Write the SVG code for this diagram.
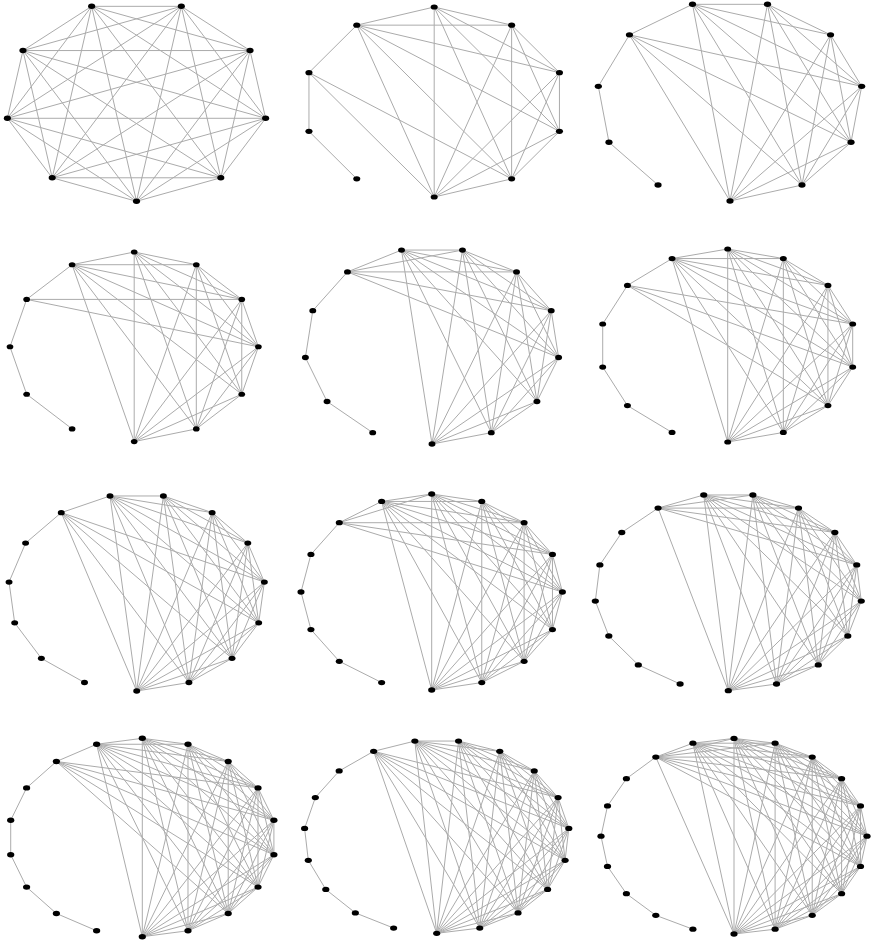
<svg xmlns="http://www.w3.org/2000/svg" width="871" height="943" viewBox="0 0 871 943">
<style>
.e path{fill:none;stroke:#ababab;stroke-width:1;vector-effect:non-scaling-stroke}
.n circle{fill:#000}
</style>
<rect width="871" height="943" fill="#fff"/>

<g id="panel1" transform="translate(136.5 100.8) scale(.1311 .1005)">
<g class="e" id="p1-edges">
<path d="M0 1000L-643 766"/><path d="M0 1000L-985 174"/><path d="M0 1000L-866 -500"/><path d="M0 1000L-342 -940"/><path d="M0 1000L342 -940"/><path d="M0 1000L866 -500"/><path d="M0 1000L985 174"/><path d="M0 1000L643 766"/>
<path d="M-643 766L-985 174"/><path d="M-643 766L-866 -500"/><path d="M-643 766L-342 -940"/><path d="M-643 766L342 -940"/><path d="M-643 766L866 -500"/><path d="M-643 766L985 174"/><path d="M-643 766L643 766"/>
<path d="M-985 174L-866 -500"/><path d="M-985 174L-342 -940"/><path d="M-985 174L342 -940"/><path d="M-985 174L866 -500"/><path d="M-985 174L985 174"/><path d="M-985 174L643 766"/>
<path d="M-866 -500L-342 -940"/><path d="M-866 -500L342 -940"/><path d="M-866 -500L866 -500"/><path d="M-866 -500L985 174"/><path d="M-866 -500L643 766"/>
<path d="M-342 -940L342 -940"/><path d="M-342 -940L866 -500"/><path d="M-342 -940L985 174"/><path d="M-342 -940L643 766"/>
<path d="M342 -940L866 -500"/><path d="M342 -940L985 174"/><path d="M342 -940L643 766"/>
<path d="M866 -500L985 174"/><path d="M866 -500L643 766"/><path d="M985 174L643 766"/>
</g>
<g class="n">
<g id="p1-n0"><circle cx="0" cy="1000" r="27"/></g><g id="p1-n1"><circle cx="-643" cy="766" r="27"/></g><g id="p1-n2"><circle cx="-985" cy="174" r="27"/></g><g id="p1-n3"><circle cx="-866" cy="-500" r="27"/></g><g id="p1-n4"><circle cx="-342" cy="-940" r="27"/></g><g id="p1-n5"><circle cx="342" cy="-940" r="27"/></g><g id="p1-n6"><circle cx="866" cy="-500" r="27"/></g><g id="p1-n7"><circle cx="985" cy="174" r="27"/></g><g id="p1-n8"><circle cx="643" cy="766" r="27"/></g>
</g>
</g>

<g id="panel2" transform="translate(434.2 102) scale(.1317 .095)">
<g class="e" id="p2-edges">
<path d="M-588 809L-951 309"/><path d="M-951 309L-951 -309"/><path d="M-951 -309L-588 -809"/><path d="M-951 -309L588 809"/><path d="M-951 -309L0 1000"/>
<path d="M0 1000L-588 -809"/><path d="M0 1000L0 -1000"/><path d="M0 1000L588 -809"/><path d="M0 1000L951 -309"/><path d="M0 1000L951 309"/><path d="M0 1000L588 809"/>
<path d="M-588 -809L0 -1000"/><path d="M-588 -809L588 -809"/><path d="M-588 -809L951 -309"/><path d="M-588 -809L951 309"/><path d="M-588 -809L588 809"/>
<path d="M0 -1000L588 -809"/><path d="M0 -1000L951 -309"/><path d="M0 -1000L951 309"/><path d="M0 -1000L588 809"/>
<path d="M588 -809L951 -309"/><path d="M588 -809L951 309"/><path d="M588 -809L588 809"/>
<path d="M951 -309L951 309"/><path d="M951 -309L588 809"/><path d="M951 309L588 809"/>
</g>
<g class="n">
<g id="p2-n0"><circle cx="0" cy="1000" r="27"/></g><g id="p2-n1"><circle cx="-588" cy="809" r="27"/></g><g id="p2-n2"><circle cx="-951" cy="309" r="27"/></g><g id="p2-n3"><circle cx="-951" cy="-309" r="27"/></g><g id="p2-n4"><circle cx="-588" cy="-809" r="27"/></g><g id="p2-n5"><circle cx="0" cy="-1000" r="27"/></g><g id="p2-n6"><circle cx="588" cy="-809" r="27"/></g><g id="p2-n7"><circle cx="951" cy="-309" r="27"/></g><g id="p2-n8"><circle cx="951" cy="309" r="27"/></g><g id="p2-n9"><circle cx="588" cy="809" r="27"/></g>
</g>
</g>

<g id="panel3" transform="translate(730 100.6) scale(.133 .1004)">
<g class="e" id="p3-edges">
<path d="M-541 841L-910 415"/><path d="M-910 415L-990 -142"/><path d="M-990 -142L-756 -655"/><path d="M-756 -655L-282 -959"/><path d="M-756 -655L990 -142"/><path d="M-756 -655L910 415"/><path d="M-756 -655L541 841"/><path d="M-756 -655L0 1000"/>
<path d="M0 1000L-282 -959"/><path d="M0 1000L282 -959"/><path d="M0 1000L756 -655"/><path d="M0 1000L990 -142"/><path d="M0 1000L910 415"/><path d="M0 1000L541 841"/>
<path d="M-282 -959L282 -959"/><path d="M-282 -959L756 -655"/><path d="M-282 -959L990 -142"/><path d="M-282 -959L910 415"/><path d="M-282 -959L541 841"/>
<path d="M282 -959L756 -655"/><path d="M282 -959L990 -142"/><path d="M282 -959L910 415"/><path d="M282 -959L541 841"/>
<path d="M756 -655L990 -142"/><path d="M756 -655L910 415"/><path d="M756 -655L541 841"/>
<path d="M990 -142L910 415"/><path d="M990 -142L541 841"/><path d="M910 415L541 841"/>
</g>
<g class="n">
<g id="p3-n0"><circle cx="0" cy="1000" r="27"/></g><g id="p3-n1"><circle cx="-541" cy="841" r="27"/></g><g id="p3-n2"><circle cx="-910" cy="415" r="27"/></g><g id="p3-n3"><circle cx="-990" cy="-142" r="27"/></g><g id="p3-n4"><circle cx="-756" cy="-655" r="27"/></g><g id="p3-n5"><circle cx="-282" cy="-959" r="27"/></g><g id="p3-n6"><circle cx="282" cy="-959" r="27"/></g><g id="p3-n7"><circle cx="756" cy="-655" r="27"/></g><g id="p3-n8"><circle cx="990" cy="-142" r="27"/></g><g id="p3-n9"><circle cx="910" cy="415" r="27"/></g><g id="p3-n10"><circle cx="541" cy="841" r="27"/></g>
</g>
</g>

<g id="panel4" transform="translate(134.2 346.8) scale(.1242 .0948)">
<g class="e" id="p4-edges">
<path d="M-500 866L-866 500"/><path d="M-866 500L-1000 0"/><path d="M-1000 0L-866 -500"/><path d="M-866 -500L-500 -866"/><path d="M-866 -500L866 -500"/><path d="M-866 -500L1000 0"/>
<path d="M0 1000L-500 -866"/><path d="M0 1000L0 -1000"/><path d="M0 1000L500 -866"/><path d="M0 1000L866 -500"/><path d="M0 1000L1000 0"/><path d="M0 1000L866 500"/><path d="M0 1000L500 866"/>
<path d="M-500 -866L0 -1000"/><path d="M-500 -866L500 -866"/><path d="M-500 -866L866 -500"/><path d="M-500 -866L1000 0"/><path d="M-500 -866L866 500"/><path d="M-500 -866L500 866"/>
<path d="M0 -1000L500 -866"/><path d="M0 -1000L866 -500"/><path d="M0 -1000L1000 0"/><path d="M0 -1000L866 500"/><path d="M0 -1000L500 866"/>
<path d="M500 -866L866 -500"/><path d="M500 -866L1000 0"/><path d="M500 -866L866 500"/><path d="M500 -866L500 866"/>
<path d="M866 -500L1000 0"/><path d="M866 -500L866 500"/><path d="M866 -500L500 866"/>
<path d="M1000 0L866 500"/><path d="M1000 0L500 866"/><path d="M866 500L500 866"/>
</g>
<g class="n">
<g id="p4-n0"><circle cx="0" cy="1000" r="27"/></g><g id="p4-n1"><circle cx="-500" cy="866" r="27"/></g><g id="p4-n2"><circle cx="-866" cy="500" r="27"/></g><g id="p4-n3"><circle cx="-1000" cy="0" r="27"/></g><g id="p4-n4"><circle cx="-866" cy="-500" r="27"/></g><g id="p4-n5"><circle cx="-500" cy="-866" r="27"/></g><g id="p4-n6"><circle cx="0" cy="-1000" r="27"/></g><g id="p4-n7"><circle cx="500" cy="-866" r="27"/></g><g id="p4-n8"><circle cx="866" cy="-500" r="27"/></g><g id="p4-n9"><circle cx="1000" cy="0" r="27"/></g><g id="p4-n10"><circle cx="866" cy="500" r="27"/></g><g id="p4-n11"><circle cx="500" cy="866" r="27"/></g>
</g>
</g>

<g id="panel5" transform="translate(432 345.6) scale(.1275 .0984)">
<g class="e" id="p5-edges">
<path d="M-465 885L-823 568"/><path d="M-823 568L-993 121"/><path d="M-993 121L-935 -355"/><path d="M-935 -355L-663 -749"/><path d="M-663 -749L-239 -971"/><path d="M-663 -749L239 -971"/><path d="M-663 -749L663 -749"/><path d="M-663 -749L935 -355"/><path d="M-663 -749L993 121"/>
<path d="M0 1000L-239 -971"/><path d="M0 1000L239 -971"/><path d="M0 1000L663 -749"/><path d="M0 1000L935 -355"/><path d="M0 1000L993 121"/><path d="M0 1000L823 568"/><path d="M0 1000L465 885"/>
<path d="M-239 -971L239 -971"/><path d="M-239 -971L663 -749"/><path d="M-239 -971L935 -355"/><path d="M-239 -971L993 121"/><path d="M-239 -971L823 568"/><path d="M-239 -971L465 885"/>
<path d="M239 -971L663 -749"/><path d="M239 -971L935 -355"/><path d="M239 -971L993 121"/><path d="M239 -971L823 568"/><path d="M239 -971L465 885"/>
<path d="M663 -749L935 -355"/><path d="M663 -749L993 121"/><path d="M663 -749L823 568"/><path d="M663 -749L465 885"/>
<path d="M935 -355L993 121"/><path d="M935 -355L823 568"/><path d="M935 -355L465 885"/>
<path d="M993 121L823 568"/><path d="M993 121L465 885"/><path d="M823 568L465 885"/>
</g>
<g class="n">
<g id="p5-n0"><circle cx="0" cy="1000" r="27"/></g><g id="p5-n1"><circle cx="-465" cy="885" r="27"/></g><g id="p5-n2"><circle cx="-823" cy="568" r="27"/></g><g id="p5-n3"><circle cx="-993" cy="121" r="27"/></g><g id="p5-n4"><circle cx="-935" cy="-355" r="27"/></g><g id="p5-n5"><circle cx="-663" cy="-749" r="27"/></g><g id="p5-n6"><circle cx="-239" cy="-971" r="27"/></g><g id="p5-n7"><circle cx="239" cy="-971" r="27"/></g><g id="p5-n8"><circle cx="663" cy="-749" r="27"/></g><g id="p5-n9"><circle cx="935" cy="-355" r="27"/></g><g id="p5-n10"><circle cx="993" cy="121" r="27"/></g><g id="p5-n11"><circle cx="823" cy="568" r="27"/></g><g id="p5-n12"><circle cx="465" cy="885" r="27"/></g>
</g>
</g>

<g id="panel6" transform="translate(727.7 345.5) scale(.1282 .0965)">
<g class="e" id="p6-edges">
<path d="M-434 901L-782 623"/><path d="M-782 623L-975 223"/><path d="M-975 223L-975 -223"/><path d="M-975 -223L-782 -623"/><path d="M-782 -623L-434 -901"/><path d="M-782 -623L975 -223"/><path d="M-782 -623L975 223"/><path d="M-782 -623L782 623"/>
<path d="M0 1000L-434 -901"/><path d="M0 1000L0 -1000"/><path d="M0 1000L434 -901"/><path d="M0 1000L782 -623"/><path d="M0 1000L975 -223"/><path d="M0 1000L975 223"/><path d="M0 1000L782 623"/><path d="M0 1000L434 901"/>
<path d="M-434 -901L0 -1000"/><path d="M-434 -901L434 -901"/><path d="M-434 -901L782 -623"/><path d="M-434 -901L975 -223"/><path d="M-434 -901L975 223"/><path d="M-434 -901L782 623"/><path d="M-434 -901L434 901"/>
<path d="M0 -1000L434 -901"/><path d="M0 -1000L782 -623"/><path d="M0 -1000L975 -223"/><path d="M0 -1000L975 223"/><path d="M0 -1000L782 623"/><path d="M0 -1000L434 901"/>
<path d="M434 -901L782 -623"/><path d="M434 -901L975 -223"/><path d="M434 -901L975 223"/><path d="M434 -901L782 623"/><path d="M434 -901L434 901"/>
<path d="M782 -623L975 -223"/><path d="M782 -623L975 223"/><path d="M782 -623L782 623"/><path d="M782 -623L434 901"/>
<path d="M975 -223L975 223"/><path d="M975 -223L782 623"/><path d="M975 -223L434 901"/>
<path d="M975 223L782 623"/><path d="M975 223L434 901"/><path d="M782 623L434 901"/>
</g>
<g class="n">
<g id="p6-n0"><circle cx="0" cy="1000" r="27"/></g><g id="p6-n1"><circle cx="-434" cy="901" r="27"/></g><g id="p6-n2"><circle cx="-782" cy="623" r="27"/></g><g id="p6-n3"><circle cx="-975" cy="223" r="27"/></g><g id="p6-n4"><circle cx="-975" cy="-223" r="27"/></g><g id="p6-n5"><circle cx="-782" cy="-623" r="27"/></g><g id="p6-n6"><circle cx="-434" cy="-901" r="27"/></g><g id="p6-n7"><circle cx="0" cy="-1000" r="27"/></g><g id="p6-n8"><circle cx="434" cy="-901" r="27"/></g><g id="p6-n9"><circle cx="782" cy="-623" r="27"/></g><g id="p6-n10"><circle cx="975" cy="-223" r="27"/></g><g id="p6-n11"><circle cx="975" cy="223" r="27"/></g><g id="p6-n12"><circle cx="782" cy="623" r="27"/></g><g id="p6-n13"><circle cx="434" cy="901" r="27"/></g>
</g>
</g>

<g id="panel7" transform="translate(136.7 592.4) scale(.1283 .0986)">
<g class="e" id="p7-edges">
<path d="M-407 914L-743 669"/><path d="M-743 669L-951 309"/><path d="M-951 309L-995 -105"/><path d="M-995 -105L-866 -500"/><path d="M-866 -500L-588 -809"/><path d="M-588 -809L-208 -978"/><path d="M-588 -809L995 -105"/><path d="M-588 -809L951 309"/><path d="M-588 -809L743 669"/><path d="M-588 -809L407 914"/><path d="M-588 -809L0 1000"/>
<path d="M0 1000L-208 -978"/><path d="M0 1000L208 -978"/><path d="M0 1000L588 -809"/><path d="M0 1000L866 -500"/><path d="M0 1000L995 -105"/><path d="M0 1000L951 309"/><path d="M0 1000L743 669"/><path d="M0 1000L407 914"/>
<path d="M-208 -978L208 -978"/><path d="M-208 -978L588 -809"/><path d="M-208 -978L866 -500"/><path d="M-208 -978L995 -105"/><path d="M-208 -978L951 309"/><path d="M-208 -978L743 669"/><path d="M-208 -978L407 914"/>
<path d="M208 -978L588 -809"/><path d="M208 -978L866 -500"/><path d="M208 -978L995 -105"/><path d="M208 -978L951 309"/><path d="M208 -978L743 669"/><path d="M208 -978L407 914"/>
<path d="M588 -809L866 -500"/><path d="M588 -809L995 -105"/><path d="M588 -809L951 309"/><path d="M588 -809L743 669"/><path d="M588 -809L407 914"/>
<path d="M866 -500L995 -105"/><path d="M866 -500L951 309"/><path d="M866 -500L743 669"/><path d="M866 -500L407 914"/>
<path d="M995 -105L951 309"/><path d="M995 -105L743 669"/><path d="M995 -105L407 914"/>
<path d="M951 309L743 669"/><path d="M951 309L407 914"/><path d="M743 669L407 914"/>
</g>
<g class="n">
<g id="p7-n0"><circle cx="0" cy="1000" r="27"/></g><g id="p7-n1"><circle cx="-407" cy="914" r="27"/></g><g id="p7-n2"><circle cx="-743" cy="669" r="27"/></g><g id="p7-n3"><circle cx="-951" cy="309" r="27"/></g><g id="p7-n4"><circle cx="-995" cy="-105" r="27"/></g><g id="p7-n5"><circle cx="-866" cy="-500" r="27"/></g><g id="p7-n6"><circle cx="-588" cy="-809" r="27"/></g><g id="p7-n7"><circle cx="-208" cy="-978" r="27"/></g><g id="p7-n8"><circle cx="208" cy="-978" r="27"/></g><g id="p7-n9"><circle cx="588" cy="-809" r="27"/></g><g id="p7-n10"><circle cx="866" cy="-500" r="27"/></g><g id="p7-n11"><circle cx="995" cy="-105" r="27"/></g><g id="p7-n12"><circle cx="951" cy="309" r="27"/></g><g id="p7-n13"><circle cx="743" cy="669" r="27"/></g><g id="p7-n14"><circle cx="407" cy="914" r="27"/></g>
</g>
</g>

<g id="panel8" transform="translate(431.7 592) scale(.1307 .098)">
<g class="e" id="p8-edges">
<path d="M-383 924L-707 707"/><path d="M-707 707L-924 383"/><path d="M-924 383L-1000 0"/><path d="M-1000 0L-924 -383"/><path d="M-924 -383L-707 -707"/><path d="M-707 -707L-383 -924"/><path d="M-707 -707L0 -1000"/><path d="M-707 -707L707 -707"/><path d="M-707 -707L924 -383"/><path d="M-707 -707L1000 0"/>
<path d="M0 1000L-383 -924"/><path d="M0 1000L0 -1000"/><path d="M0 1000L383 -924"/><path d="M0 1000L707 -707"/><path d="M0 1000L924 -383"/><path d="M0 1000L1000 0"/><path d="M0 1000L924 383"/><path d="M0 1000L707 707"/><path d="M0 1000L383 924"/>
<path d="M-383 -924L0 -1000"/><path d="M-383 -924L383 -924"/><path d="M-383 -924L707 -707"/><path d="M-383 -924L924 -383"/><path d="M-383 -924L1000 0"/><path d="M-383 -924L924 383"/><path d="M-383 -924L707 707"/><path d="M-383 -924L383 924"/>
<path d="M0 -1000L383 -924"/><path d="M0 -1000L707 -707"/><path d="M0 -1000L924 -383"/><path d="M0 -1000L1000 0"/><path d="M0 -1000L924 383"/><path d="M0 -1000L707 707"/><path d="M0 -1000L383 924"/>
<path d="M383 -924L707 -707"/><path d="M383 -924L924 -383"/><path d="M383 -924L1000 0"/><path d="M383 -924L924 383"/><path d="M383 -924L707 707"/><path d="M383 -924L383 924"/>
<path d="M707 -707L924 -383"/><path d="M707 -707L1000 0"/><path d="M707 -707L924 383"/><path d="M707 -707L707 707"/><path d="M707 -707L383 924"/>
<path d="M924 -383L1000 0"/><path d="M924 -383L924 383"/><path d="M924 -383L707 707"/><path d="M924 -383L383 924"/>
<path d="M1000 0L924 383"/><path d="M1000 0L707 707"/><path d="M1000 0L383 924"/>
<path d="M924 383L707 707"/><path d="M924 383L383 924"/><path d="M707 707L383 924"/>
</g>
<g class="n">
<g id="p8-n0"><circle cx="0" cy="1000" r="27"/></g><g id="p8-n1"><circle cx="-383" cy="924" r="27"/></g><g id="p8-n2"><circle cx="-707" cy="707" r="27"/></g><g id="p8-n3"><circle cx="-924" cy="383" r="27"/></g><g id="p8-n4"><circle cx="-1000" cy="0" r="27"/></g><g id="p8-n5"><circle cx="-924" cy="-383" r="27"/></g><g id="p8-n6"><circle cx="-707" cy="-707" r="27"/></g><g id="p8-n7"><circle cx="-383" cy="-924" r="27"/></g><g id="p8-n8"><circle cx="0" cy="-1000" r="27"/></g><g id="p8-n9"><circle cx="383" cy="-924" r="27"/></g><g id="p8-n10"><circle cx="707" cy="-707" r="27"/></g><g id="p8-n11"><circle cx="924" cy="-383" r="27"/></g><g id="p8-n12"><circle cx="1000" cy="0" r="27"/></g><g id="p8-n13"><circle cx="924" cy="383" r="27"/></g><g id="p8-n14"><circle cx="707" cy="707" r="27"/></g><g id="p8-n15"><circle cx="383" cy="924" r="27"/></g>
</g>
</g>

<g id="panel9" transform="translate(728.3 592) scale(.1335 .0987)">
<g class="e" id="p9-edges">
<path d="M-361 932L-674 739"/><path d="M-674 739L-895 446"/><path d="M-895 446L-996 92"/><path d="M-996 92L-962 -274"/><path d="M-962 -274L-798 -603"/><path d="M-798 -603L-526 -850"/><path d="M-526 -850L-184 -983"/><path d="M-526 -850L184 -983"/><path d="M-526 -850L526 -850"/><path d="M-526 -850L798 -603"/><path d="M-526 -850L962 -274"/><path d="M-526 -850L0 1000"/>
<path d="M0 1000L-184 -983"/><path d="M0 1000L184 -983"/><path d="M0 1000L526 -850"/><path d="M0 1000L798 -603"/><path d="M0 1000L962 -274"/><path d="M0 1000L996 92"/><path d="M0 1000L895 446"/><path d="M0 1000L674 739"/><path d="M0 1000L361 932"/>
<path d="M-184 -983L184 -983"/><path d="M-184 -983L526 -850"/><path d="M-184 -983L798 -603"/><path d="M-184 -983L962 -274"/><path d="M-184 -983L996 92"/><path d="M-184 -983L895 446"/><path d="M-184 -983L674 739"/><path d="M-184 -983L361 932"/>
<path d="M184 -983L526 -850"/><path d="M184 -983L798 -603"/><path d="M184 -983L962 -274"/><path d="M184 -983L996 92"/><path d="M184 -983L895 446"/><path d="M184 -983L674 739"/><path d="M184 -983L361 932"/>
<path d="M526 -850L798 -603"/><path d="M526 -850L962 -274"/><path d="M526 -850L996 92"/><path d="M526 -850L895 446"/><path d="M526 -850L674 739"/><path d="M526 -850L361 932"/>
<path d="M798 -603L962 -274"/><path d="M798 -603L996 92"/><path d="M798 -603L895 446"/><path d="M798 -603L674 739"/><path d="M798 -603L361 932"/>
<path d="M962 -274L996 92"/><path d="M962 -274L895 446"/><path d="M962 -274L674 739"/><path d="M962 -274L361 932"/>
<path d="M996 92L895 446"/><path d="M996 92L674 739"/><path d="M996 92L361 932"/>
<path d="M895 446L674 739"/><path d="M895 446L361 932"/><path d="M674 739L361 932"/>
</g>
<g class="n">
<g id="p9-n0"><circle cx="0" cy="1000" r="27"/></g><g id="p9-n1"><circle cx="-361" cy="932" r="27"/></g><g id="p9-n2"><circle cx="-674" cy="739" r="27"/></g><g id="p9-n3"><circle cx="-895" cy="446" r="27"/></g><g id="p9-n4"><circle cx="-996" cy="92" r="27"/></g><g id="p9-n5"><circle cx="-962" cy="-274" r="27"/></g><g id="p9-n6"><circle cx="-798" cy="-603" r="27"/></g><g id="p9-n7"><circle cx="-526" cy="-850" r="27"/></g><g id="p9-n8"><circle cx="-184" cy="-983" r="27"/></g><g id="p9-n9"><circle cx="184" cy="-983" r="27"/></g><g id="p9-n10"><circle cx="526" cy="-850" r="27"/></g><g id="p9-n11"><circle cx="798" cy="-603" r="27"/></g><g id="p9-n12"><circle cx="962" cy="-274" r="27"/></g><g id="p9-n13"><circle cx="996" cy="92" r="27"/></g><g id="p9-n14"><circle cx="895" cy="446" r="27"/></g><g id="p9-n15"><circle cx="674" cy="739" r="27"/></g><g id="p9-n16"><circle cx="361" cy="932" r="27"/></g>
</g>
</g>

<g id="panel10" transform="translate(142.3 837.5) scale(.1336 .0992)">
<g class="e" id="p10-edges">
<path d="M-342 940L-643 766"/><path d="M-643 766L-866 500"/><path d="M-866 500L-985 174"/><path d="M-985 174L-985 -174"/><path d="M-985 -174L-866 -500"/><path d="M-866 -500L-643 -766"/><path d="M-643 -766L-342 -940"/><path d="M-643 -766L866 -500"/><path d="M-643 -766L985 -174"/><path d="M-643 -766L985 174"/><path d="M-643 -766L866 500"/><path d="M-643 -766L643 766"/>
<path d="M0 1000L-342 -940"/><path d="M0 1000L0 -1000"/><path d="M0 1000L342 -940"/><path d="M0 1000L643 -766"/><path d="M0 1000L866 -500"/><path d="M0 1000L985 -174"/><path d="M0 1000L985 174"/><path d="M0 1000L866 500"/><path d="M0 1000L643 766"/><path d="M0 1000L342 940"/>
<path d="M-342 -940L0 -1000"/><path d="M-342 -940L342 -940"/><path d="M-342 -940L643 -766"/><path d="M-342 -940L866 -500"/><path d="M-342 -940L985 -174"/><path d="M-342 -940L985 174"/><path d="M-342 -940L866 500"/><path d="M-342 -940L643 766"/><path d="M-342 -940L342 940"/>
<path d="M0 -1000L342 -940"/><path d="M0 -1000L643 -766"/><path d="M0 -1000L866 -500"/><path d="M0 -1000L985 -174"/><path d="M0 -1000L985 174"/><path d="M0 -1000L866 500"/><path d="M0 -1000L643 766"/><path d="M0 -1000L342 940"/>
<path d="M342 -940L643 -766"/><path d="M342 -940L866 -500"/><path d="M342 -940L985 -174"/><path d="M342 -940L985 174"/><path d="M342 -940L866 500"/><path d="M342 -940L643 766"/><path d="M342 -940L342 940"/>
<path d="M643 -766L866 -500"/><path d="M643 -766L985 -174"/><path d="M643 -766L985 174"/><path d="M643 -766L866 500"/><path d="M643 -766L643 766"/><path d="M643 -766L342 940"/>
<path d="M866 -500L985 -174"/><path d="M866 -500L985 174"/><path d="M866 -500L866 500"/><path d="M866 -500L643 766"/><path d="M866 -500L342 940"/>
<path d="M985 -174L985 174"/><path d="M985 -174L866 500"/><path d="M985 -174L643 766"/><path d="M985 -174L342 940"/>
<path d="M985 174L866 500"/><path d="M985 174L643 766"/><path d="M985 174L342 940"/>
<path d="M866 500L643 766"/><path d="M866 500L342 940"/><path d="M643 766L342 940"/>
</g>
<g class="n">
<g id="p10-n0"><circle cx="0" cy="1000" r="27"/></g><g id="p10-n1"><circle cx="-342" cy="940" r="27"/></g><g id="p10-n2"><circle cx="-643" cy="766" r="27"/></g><g id="p10-n3"><circle cx="-866" cy="500" r="27"/></g><g id="p10-n4"><circle cx="-985" cy="174" r="27"/></g><g id="p10-n5"><circle cx="-985" cy="-174" r="27"/></g><g id="p10-n6"><circle cx="-866" cy="-500" r="27"/></g><g id="p10-n7"><circle cx="-643" cy="-766" r="27"/></g><g id="p10-n8"><circle cx="-342" cy="-940" r="27"/></g><g id="p10-n9"><circle cx="0" cy="-1000" r="27"/></g><g id="p10-n10"><circle cx="342" cy="-940" r="27"/></g><g id="p10-n11"><circle cx="643" cy="-766" r="27"/></g><g id="p10-n12"><circle cx="866" cy="-500" r="27"/></g><g id="p10-n13"><circle cx="985" cy="-174" r="27"/></g><g id="p10-n14"><circle cx="985" cy="174" r="27"/></g><g id="p10-n15"><circle cx="866" cy="500" r="27"/></g><g id="p10-n16"><circle cx="643" cy="766" r="27"/></g><g id="p10-n17"><circle cx="342" cy="940" r="27"/></g>
</g>
</g>

<g id="panel11" transform="translate(436.7 836.5) scale(.1325 .0968)">
<g class="e" id="p11-edges">
<path d="M-325 946L-614 789"/><path d="M-614 789L-837 547"/><path d="M-837 547L-969 246"/><path d="M-969 246L-997 -83"/><path d="M-997 -83L-916 -402"/><path d="M-916 -402L-736 -677"/><path d="M-736 -677L-476 -880"/><path d="M-476 -880L-165 -986"/><path d="M-476 -880L916 -402"/><path d="M-476 -880L997 -83"/><path d="M-476 -880L969 246"/><path d="M-476 -880L837 547"/><path d="M-476 -880L614 789"/><path d="M-476 -880L325 946"/><path d="M-476 -880L0 1000"/>
<path d="M0 1000L-165 -986"/><path d="M0 1000L165 -986"/><path d="M0 1000L476 -880"/><path d="M0 1000L736 -677"/><path d="M0 1000L916 -402"/><path d="M0 1000L997 -83"/><path d="M0 1000L969 246"/><path d="M0 1000L837 547"/><path d="M0 1000L614 789"/><path d="M0 1000L325 946"/>
<path d="M-165 -986L165 -986"/><path d="M-165 -986L476 -880"/><path d="M-165 -986L736 -677"/><path d="M-165 -986L916 -402"/><path d="M-165 -986L997 -83"/><path d="M-165 -986L969 246"/><path d="M-165 -986L837 547"/><path d="M-165 -986L614 789"/><path d="M-165 -986L325 946"/>
<path d="M165 -986L476 -880"/><path d="M165 -986L736 -677"/><path d="M165 -986L916 -402"/><path d="M165 -986L997 -83"/><path d="M165 -986L969 246"/><path d="M165 -986L837 547"/><path d="M165 -986L614 789"/><path d="M165 -986L325 946"/>
<path d="M476 -880L736 -677"/><path d="M476 -880L916 -402"/><path d="M476 -880L997 -83"/><path d="M476 -880L969 246"/><path d="M476 -880L837 547"/><path d="M476 -880L614 789"/><path d="M476 -880L325 946"/>
<path d="M736 -677L916 -402"/><path d="M736 -677L997 -83"/><path d="M736 -677L969 246"/><path d="M736 -677L837 547"/><path d="M736 -677L614 789"/><path d="M736 -677L325 946"/>
<path d="M916 -402L997 -83"/><path d="M916 -402L969 246"/><path d="M916 -402L837 547"/><path d="M916 -402L614 789"/><path d="M916 -402L325 946"/>
<path d="M997 -83L969 246"/><path d="M997 -83L837 547"/><path d="M997 -83L614 789"/><path d="M997 -83L325 946"/>
<path d="M969 246L837 547"/><path d="M969 246L614 789"/><path d="M969 246L325 946"/>
<path d="M837 547L614 789"/><path d="M837 547L325 946"/><path d="M614 789L325 946"/>
</g>
<g class="n">
<g id="p11-n0"><circle cx="0" cy="1000" r="27"/></g><g id="p11-n1"><circle cx="-325" cy="946" r="27"/></g><g id="p11-n2"><circle cx="-614" cy="789" r="27"/></g><g id="p11-n3"><circle cx="-837" cy="547" r="27"/></g><g id="p11-n4"><circle cx="-969" cy="246" r="27"/></g><g id="p11-n5"><circle cx="-997" cy="-83" r="27"/></g><g id="p11-n6"><circle cx="-916" cy="-402" r="27"/></g><g id="p11-n7"><circle cx="-736" cy="-677" r="27"/></g><g id="p11-n8"><circle cx="-476" cy="-880" r="27"/></g><g id="p11-n9"><circle cx="-165" cy="-986" r="27"/></g><g id="p11-n10"><circle cx="165" cy="-986" r="27"/></g><g id="p11-n11"><circle cx="476" cy="-880" r="27"/></g><g id="p11-n12"><circle cx="736" cy="-677" r="27"/></g><g id="p11-n13"><circle cx="916" cy="-402" r="27"/></g><g id="p11-n14"><circle cx="997" cy="-83" r="27"/></g><g id="p11-n15"><circle cx="969" cy="246" r="27"/></g><g id="p11-n16"><circle cx="837" cy="547" r="27"/></g><g id="p11-n17"><circle cx="614" cy="789" r="27"/></g><g id="p11-n18"><circle cx="325" cy="946" r="27"/></g>
</g>
</g>

<g id="panel12" transform="translate(734 836.2) scale(.133 .0978)">
<g class="e" id="p12-edges">
<path d="M-309 951L-588 809"/><path d="M-588 809L-809 588"/><path d="M-809 588L-951 309"/><path d="M-951 309L-1000 0"/><path d="M-1000 0L-951 -309"/><path d="M-951 -309L-809 -588"/><path d="M-809 -588L-588 -809"/><path d="M-588 -809L-309 -951"/><path d="M-588 -809L0 -1000"/><path d="M-588 -809L309 -951"/><path d="M-588 -809L588 -809"/><path d="M-588 -809L809 -588"/><path d="M-588 -809L951 -309"/><path d="M-588 -809L1000 0"/><path d="M-588 -809L951 309"/><path d="M-588 -809L0 1000"/>
<path d="M0 1000L-309 -951"/><path d="M0 1000L0 -1000"/><path d="M0 1000L309 -951"/><path d="M0 1000L588 -809"/><path d="M0 1000L809 -588"/><path d="M0 1000L951 -309"/><path d="M0 1000L1000 0"/><path d="M0 1000L951 309"/><path d="M0 1000L809 588"/><path d="M0 1000L588 809"/><path d="M0 1000L309 951"/>
<path d="M-309 -951L0 -1000"/><path d="M-309 -951L309 -951"/><path d="M-309 -951L588 -809"/><path d="M-309 -951L809 -588"/><path d="M-309 -951L951 -309"/><path d="M-309 -951L1000 0"/><path d="M-309 -951L951 309"/><path d="M-309 -951L809 588"/><path d="M-309 -951L588 809"/><path d="M-309 -951L309 951"/>
<path d="M0 -1000L309 -951"/><path d="M0 -1000L588 -809"/><path d="M0 -1000L809 -588"/><path d="M0 -1000L951 -309"/><path d="M0 -1000L1000 0"/><path d="M0 -1000L951 309"/><path d="M0 -1000L809 588"/><path d="M0 -1000L588 809"/><path d="M0 -1000L309 951"/>
<path d="M309 -951L588 -809"/><path d="M309 -951L809 -588"/><path d="M309 -951L951 -309"/><path d="M309 -951L1000 0"/><path d="M309 -951L951 309"/><path d="M309 -951L809 588"/><path d="M309 -951L588 809"/><path d="M309 -951L309 951"/>
<path d="M588 -809L809 -588"/><path d="M588 -809L951 -309"/><path d="M588 -809L1000 0"/><path d="M588 -809L951 309"/><path d="M588 -809L809 588"/><path d="M588 -809L588 809"/><path d="M588 -809L309 951"/>
<path d="M809 -588L951 -309"/><path d="M809 -588L1000 0"/><path d="M809 -588L951 309"/><path d="M809 -588L809 588"/><path d="M809 -588L588 809"/><path d="M809 -588L309 951"/>
<path d="M951 -309L1000 0"/><path d="M951 -309L951 309"/><path d="M951 -309L809 588"/><path d="M951 -309L588 809"/><path d="M951 -309L309 951"/>
<path d="M1000 0L951 309"/><path d="M1000 0L809 588"/><path d="M1000 0L588 809"/><path d="M1000 0L309 951"/>
<path d="M951 309L809 588"/><path d="M951 309L588 809"/><path d="M951 309L309 951"/>
<path d="M809 588L588 809"/><path d="M809 588L309 951"/><path d="M588 809L309 951"/>
</g>
<g class="n">
<g id="p12-n0"><circle cx="0" cy="1000" r="27"/></g><g id="p12-n1"><circle cx="-309" cy="951" r="27"/></g><g id="p12-n2"><circle cx="-588" cy="809" r="27"/></g><g id="p12-n3"><circle cx="-809" cy="588" r="27"/></g><g id="p12-n4"><circle cx="-951" cy="309" r="27"/></g><g id="p12-n5"><circle cx="-1000" cy="0" r="27"/></g><g id="p12-n6"><circle cx="-951" cy="-309" r="27"/></g><g id="p12-n7"><circle cx="-809" cy="-588" r="27"/></g><g id="p12-n8"><circle cx="-588" cy="-809" r="27"/></g><g id="p12-n9"><circle cx="-309" cy="-951" r="27"/></g><g id="p12-n10"><circle cx="0" cy="-1000" r="27"/></g><g id="p12-n11"><circle cx="309" cy="-951" r="27"/></g><g id="p12-n12"><circle cx="588" cy="-809" r="27"/></g><g id="p12-n13"><circle cx="809" cy="-588" r="27"/></g><g id="p12-n14"><circle cx="951" cy="-309" r="27"/></g><g id="p12-n15"><circle cx="1000" cy="0" r="27"/></g><g id="p12-n16"><circle cx="951" cy="309" r="27"/></g><g id="p12-n17"><circle cx="809" cy="588" r="27"/></g><g id="p12-n18"><circle cx="588" cy="809" r="27"/></g><g id="p12-n19"><circle cx="309" cy="951" r="27"/></g>
</g>
</g>
</svg>
